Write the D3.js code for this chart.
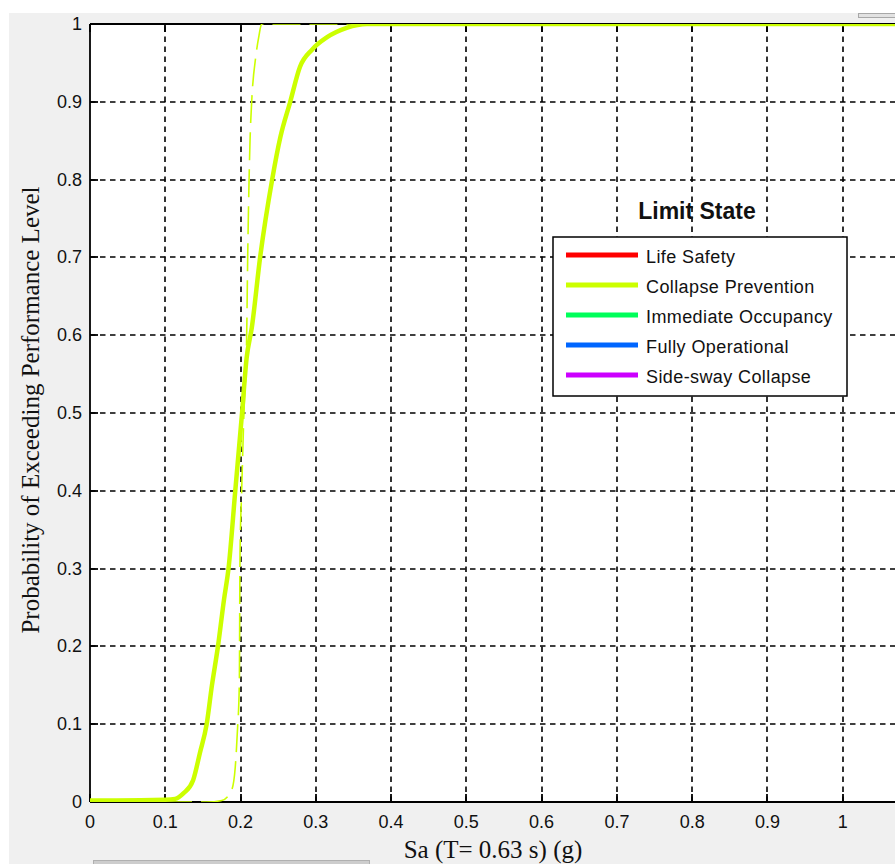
<!DOCTYPE html>
<html>
<head>
<meta charset="utf-8">
<script src="https://cdn.jsdelivr.net/npm/d3@7"></script>
<style>
  body { margin: 0; background: #fff; }
  svg { display: block; }
  .tick-label { font-family: "Liberation Sans", Arial, sans-serif; font-size: 18px; fill: #111; }
  .axis-title { font-family: "Liberation Serif", "Times New Roman", serif; font-size: 25px; fill: #111; }
  .legend-text { font-family: "Liberation Sans", Arial, sans-serif; font-size: 18px; fill: #111; letter-spacing: 0.4px; }
  .legend-title { font-family: "Liberation Sans", Arial, sans-serif; font-size: 23px; font-weight: bold; fill: #111; }
</style>
</head>
<body>
<svg id="chart" width="895" height="864"></svg>
<script>
const width = 895;
const height = 864;
const plotLeft = 90;
const plotRight = 918; // axes box runs past the window edge
const plotTop = 24;
const plotBottom = 802;

// fragility curves
const saSolid = [0, 0.035, 0.10, 0.113, 0.124, 0.137, 0.146, 0.155, 0.162, 0.170, 0.178, 0.184, 0.193, 0.202, 0.208, 0.215, 0.226, 0.242, 0.253, 0.266, 0.279, 0.295, 0.315, 0.341, 0.368, 1.1];
const pSolid  = [0.002, 0.002, 0.003, 0.004, 0.011, 0.028, 0.063, 0.10, 0.15, 0.20, 0.26, 0.30, 0.40, 0.50, 0.57, 0.61, 0.70, 0.80, 0.855, 0.90, 0.945, 0.967, 0.983, 0.995, 1.0, 1.0];

const saDashed = [0, 0.155, 0.175, 0.188, 0.193, 0.1957, 0.1984, 0.1993, 0.2015, 0.2045, 0.208, 0.2095, 0.2126, 0.2148, 0.2205, 0.2245, 0.228, 1.1];
const pDashed  = [0, 0, 0.002, 0.015, 0.045, 0.089, 0.153, 0.32, 0.40, 0.50, 0.59, 0.70, 0.85, 0.90, 0.96, 0.985, 1.0, 1.0];

const xTicks = [0, 0.1, 0.2, 0.3, 0.4, 0.5, 0.6, 0.7, 0.8, 0.9, 1];
const yTicks = [0, 0.1, 0.2, 0.3, 0.4, 0.5, 0.6, 0.7, 0.8, 0.9, 1];

const legendLabels = ["Life Safety", "Collapse Prevention", "Immediate Occupancy", "Fully Operational", "Side-sway Collapse"];
const legendColors = ["#ff0000", "#ccff00", "#00ff5a", "#0066ff", "#cc00ff"];
const curveColor = "#ccff00";

const svg = d3.select("#chart");

// figure background, like the MATLAB window
svg.append("rect").attr("x", 9).attr("y", 13).attr("width", width).attr("height", height).attr("fill", "#f0f0f0");
svg.append("rect").attr("x", 858.5).attr("y", 13.5).attr("width", 50).attr("height", 4)
  .attr("fill", "#e2e2e2").attr("stroke", "#a8a8a8");
svg.append("rect").attr("x", 93.5).attr("y", 860.5).attr("width", 276).attr("height", 8)
  .attr("fill", "#cdcdcd").attr("stroke", "#b0b0b0");

const x = d3.scaleLinear().domain([0, 1.1]).range([plotLeft, plotRight]);
const y = d3.scaleLinear().domain([0, 1]).range([plotBottom, plotTop]);

// plot area
svg.append("rect").attr("x", x(0)).attr("y", y(1)).attr("width", plotRight - x(0)).attr("height", y(0) - y(1)).attr("fill", "#fff");

svg.append("clipPath").attr("id", "clip")
  .append("rect").attr("x", x(0)).attr("y", y(1)).attr("width", plotRight - x(0)).attr("height", y(0) - y(1));

// grid
const grid = svg.append("g").attr("stroke", "#000").attr("stroke-width", 1.6).attr("stroke-dasharray", "5.5,4.5");
grid.selectAll("line.vx").data(xTicks.slice(1)).enter().append("line")
  .attr("x1", d => Math.round(x(d))).attr("x2", d => Math.round(x(d)))
  .attr("y1", y(0)).attr("y2", y(1));
grid.selectAll("line.hy").data(yTicks.slice(1, -1)).enter().append("line")
  .attr("y1", d => Math.round(y(d))).attr("y2", d => Math.round(y(d)))
  .attr("x1", x(0)).attr("x2", plotRight);

// axes box lines + inward ticks
const ax = svg.append("g").attr("stroke", "#000").attr("stroke-width", 1.8);
ax.append("line").attr("x1", x(0)).attr("x2", plotRight).attr("y1", y(0)).attr("y2", y(0));
ax.append("line").attr("x1", x(0)).attr("x2", plotRight).attr("y1", y(1)).attr("y2", y(1));
ax.append("line").attr("x1", x(0)).attr("x2", x(0)).attr("y1", y(0)).attr("y2", y(1));
ax.selectAll("line.tb").data(xTicks).enter().append("line")
  .attr("x1", d => Math.round(x(d))).attr("x2", d => Math.round(x(d)))
  .attr("y1", y(0)).attr("y2", y(0) - 8);
ax.selectAll("line.tt").data(xTicks).enter().append("line")
  .attr("x1", d => Math.round(x(d))).attr("x2", d => Math.round(x(d)))
  .attr("y1", y(1)).attr("y2", y(1) + 8);
ax.selectAll("line.tl").data(yTicks).enter().append("line")
  .attr("y1", d => Math.round(y(d))).attr("y2", d => Math.round(y(d)))
  .attr("x1", x(0)).attr("x2", x(0) + 8);

// tick labels
svg.selectAll("text.xt").data(xTicks).enter().append("text")
  .attr("class", "tick-label").attr("text-anchor", "middle")
  .attr("x", d => x(d)).attr("y", 828).text(d => d3.format("~g")(d));
svg.selectAll("text.yt").data(yTicks).enter().append("text")
  .attr("class", "tick-label").attr("text-anchor", "end")
  .attr("x", 82).attr("y", d => y(d) + 6).text(d => d3.format("~g")(d));

// curves
const line = d3.line().x(d => x(d[0])).y(d => y(d[1])).curve(d3.curveMonotoneX);
const curves = svg.append("g").attr("clip-path", "url(#clip)");
curves.append("path")
  .datum(saDashed.map((s, i) => [s, pDashed[i]]))
  .attr("d", line).attr("fill", "none")
  .attr("stroke", curveColor).attr("stroke-width", 1.6).attr("stroke-dasharray", "28,9");
curves.append("path")
  .datum(saSolid.map((s, i) => [s, pSolid[i]]))
  .attr("d", line).attr("fill", "none")
  .attr("stroke", curveColor).attr("stroke-width", 4.5).attr("stroke-linejoin", "round");

// axis titles
svg.append("text").attr("class", "axis-title").attr("text-anchor", "middle")
  .attr("x", 493).attr("y", 858).text("Sa (T= 0.63 s) (g)");
svg.append("text").attr("class", "axis-title").attr("text-anchor", "middle")
  .attr("transform", "translate(39,410) rotate(-90)").text("Probability of Exceeding Performance Level");

// legend
const lg = svg.append("g");
lg.append("text").attr("class", "legend-title").attr("text-anchor", "middle")
  .attr("x", 697).attr("y", 219).text("Limit State");
lg.append("rect").attr("x", 553).attr("y", 237).attr("width", 294).attr("height", 159)
  .attr("fill", "#fff").attr("stroke", "#000").attr("stroke-width", 1.5);
const items = lg.selectAll("g.item").data(legendLabels).enter().append("g")
  .attr("transform", (d, i) => `translate(0,${255 + i * 30})`);
items.append("line").attr("x1", 566).attr("x2", 638).attr("y1", 0).attr("y2", 0)
  .attr("stroke", (d, i) => legendColors[i]).attr("stroke-width", 5);
items.append("text").attr("class", "legend-text").attr("x", 646).attr("y", 8).text(d => d);
</script>
</body>
</html>
